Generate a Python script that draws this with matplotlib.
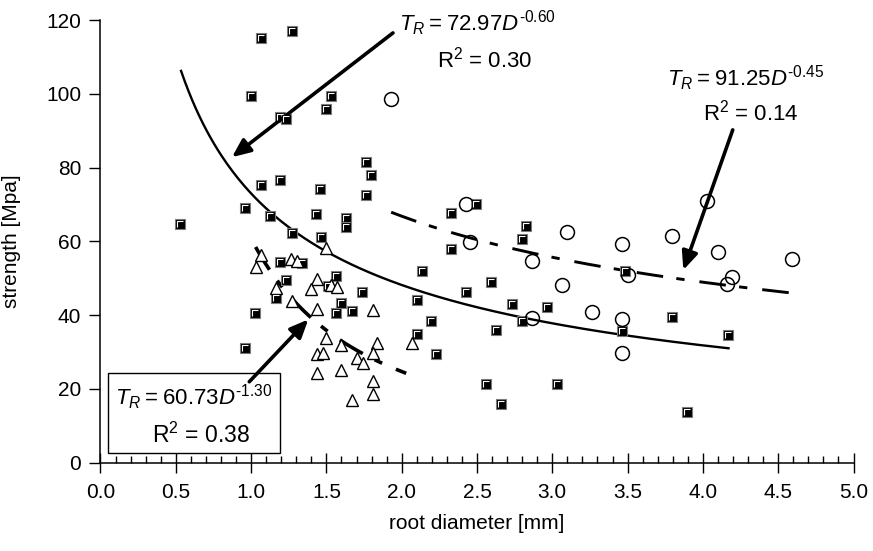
import matplotlib.pyplot as plt
import numpy as np
from matplotlib.path import Path
from matplotlib.patches import Rectangle

plt.rcParams["font.family"] = "Liberation Sans"
plt.rcParams["mathtext.fontset"] = "custom"
plt.rcParams["mathtext.rm"] = "Liberation Sans"
plt.rcParams["mathtext.it"] = "Liberation Sans:italic"
plt.rcParams["lines.scale_dashes"] = False

# root diameter [mm] / tensile strength [MPa], filled squares
sq_d = [0.53, 1.064, 1.27, 0.997, 1.53, 1.50, 1.19, 1.23, 1.064, 1.19,
        1.457, 1.796, 1.763, 1.763, 0.96, 1.125, 1.431, 1.63, 1.63, 1.27,
        1.462, 1.19, 1.336, 1.232, 1.564, 1.513, 1.165, 1.734, 1.60, 1.668,
        1.564, 1.026, 0.96, 2.49, 2.327, 2.825, 2.80, 2.327, 2.133, 2.593,
        2.427, 2.10, 2.195, 2.10, 2.228, 2.73, 2.967, 2.80, 2.626, 2.56,
        2.657, 3.03, 3.483, 3.46, 3.797, 4.165, 3.892]
sq_t = [64.7, 115.2, 117.0, 99.5, 99.5, 95.9, 93.8, 93.1, 75.3, 76.6,
        74.3, 77.9, 81.6, 72.6, 68.9, 66.9, 67.5, 66.3, 63.8, 62.2,
        61.1, 54.5, 54.2, 49.5, 50.6, 47.9, 44.7, 46.3, 43.2, 41.1,
        40.5, 40.6, 31.0, 70.2, 67.7, 64.2, 60.5, 57.9, 52.0, 49.0,
        46.3, 44.2, 38.5, 34.8, 29.5, 42.9, 42.1, 38.5, 35.8, 21.2,
        15.9, 21.4, 51.9, 35.7, 39.5, 34.6, 13.8]

# open triangles
tri_d = [1.497, 1.064, 1.033, 1.263, 1.303, 1.435, 1.396, 1.53, 1.57,
         1.165, 1.27, 1.435, 1.807, 1.497, 1.60, 1.834, 1.435, 1.48, 1.70,
         1.74, 1.81, 1.435, 1.60, 1.807, 1.807, 1.668, 2.07]
tri_t = [58.1, 56.3, 52.9, 55.2, 54.7, 49.8, 47.0, 48.1, 47.5,
         47.2, 43.9, 41.5, 41.4, 33.7, 31.9, 32.5, 29.3, 29.8, 28.3,
         27.1, 29.6, 24.2, 25.1, 22.2, 18.6, 16.9, 32.3]

# open circles
circ_d = [1.93, 2.43, 2.453, 2.863, 3.10, 3.062, 2.863, 3.262, 3.46,
          3.50, 3.46, 3.46, 3.797, 4.025, 4.098, 4.195, 4.158, 4.594]
circ_t = [98.6, 70.0, 59.9, 54.6, 62.6, 48.2, 39.1, 40.9, 59.3,
          50.8, 38.9, 29.8, 61.4, 70.9, 57.2, 50.4, 48.3, 55.1]

# power-law fits T_R = a * D^b
fit_a = [72.97, 91.25, 60.73]
fit_b = [-0.60, -0.45, -1.30]
fit_r2 = [0.30, 0.14, 0.38]
fit_lo = [0.535, 1.93, 1.03]
fit_hi = [4.17, 4.60, 2.03]

fig = plt.figure(figsize=(8.73, 5.51), dpi=100)
ax = fig.add_axes([0.1151, 0.1606, 0.8626, 0.8031])

# fitted curves
dash_dot = (0, (19.2, 9.6, 6.0, 10.8))
styles = ["-", dash_dot, dash_dot]
widths = [1.7, 2.1, 2.6]
for a, b, lo, hi, ls, lw in zip(fit_a, fit_b, fit_lo, fit_hi, styles, widths):
    d = np.linspace(lo, hi, 300)
    ax.plot(d, a * d ** b, color="black", lw=lw, linestyle=ls, zorder=2)

# squares with a light bevel on the top/left edge
corner = Path([(-1, -1), (-1, 1), (1, 1)], [Path.MOVETO, Path.LINETO, Path.LINETO])
ax.plot(sq_d, sq_t, linestyle="none", marker="s", markersize=6.8,
        markerfacecolor="black", markeredgecolor="#7a7a7a",
        markeredgewidth=0.8, zorder=3)
ax.plot(sq_d, sq_t, linestyle="none", marker=corner, markersize=4.6,
        markerfacecolor="none", markeredgecolor="white",
        markeredgewidth=0.8, zorder=4)

ax.plot(tri_d, tri_t, linestyle="none", marker="^", markersize=9.0,
        markerfacecolor="white", markeredgecolor="black",
        markeredgewidth=1.0, zorder=3)
ax.plot(circ_d, circ_t, linestyle="none", marker="o", markersize=10.0,
        markerfacecolor="none", markeredgecolor="black",
        markeredgewidth=1.1, zorder=3)

# equation labels and arrows
arrow = dict(arrowstyle="-|>,head_length=0.55,head_width=0.24",
             color="black", lw=2.6, mutation_scale=20,
             shrinkA=0, shrinkB=0)

def eq(a, b):
    return r"$T_R$" + "\u2009=\u2009" + r"%.2f$D^{\text{%.2f}}$" % (a, b)

def r2(v):
    return r"R$^{\text{2}}$ = %.2f" % v

ax.text(1.985, 119.2, eq(fit_a[0], fit_b[0]), fontsize=16,
        ha="left", va="center", clip_on=False)
ax.text(2.234, 109.4, r2(fit_r2[0]), fontsize=16, ha="left", va="center")
ax.annotate("", xy=(0.873, 82.8), xytext=(1.942, 116.5), arrowprops=arrow)

ax.text(3.762, 104.3, eq(fit_a[1], fit_b[1]), fontsize=16,
        ha="left", va="center")
ax.text(4.0, 94.8, r2(fit_r2[1]), fontsize=16, ha="left", va="center")
ax.annotate("", xy=(3.87, 52.2), xytext=(4.198, 90.2), arrowprops=arrow)

ax.add_patch(Rectangle((0.048, 2.65), 1.145, 21.7, facecolor="white",
                       edgecolor="black", lw=1.0, zorder=5))
ax.text(0.095, 17.8, eq(fit_a[2], fit_b[2]), fontsize=16,
        ha="left", va="center", zorder=6)
ax.text(0.34, 7.5, r2(fit_r2[2]), fontsize=16.5, ha="left", va="center",
        zorder=6)
ax.annotate("", xy=(1.38, 38.8), xytext=(0.988, 21.9), arrowprops=arrow,
            zorder=6)

# axes
ax.set_xlim(0, 5)
ax.set_ylim(0, 120)
ax.set_xticks(np.arange(0, 5.01, 0.5))
ax.set_xticks(np.arange(0, 5.01, 0.1), minor=True)
ax.set_yticks(np.arange(0, 121, 20))
ax.xaxis.set_major_formatter(plt.FormatStrFormatter("%.1f"))
ax.tick_params(axis="x", which="major", direction="inout", length=15,
               width=1.0, labelsize=15, pad=7)
ax.tick_params(axis="x", which="minor", direction="in", length=5, width=1.0)
ax.tick_params(axis="y", which="major", direction="out", length=8,
               width=1.0, labelsize=15, pad=6)
for side in ["top", "right"]:
    ax.spines[side].set_visible(False)
for side in ["left", "bottom"]:
    ax.spines[side].set_linewidth(1.1)

ax.set_xlabel("root diameter [mm]", fontsize=15)
ax.set_ylabel("strength [Mpa]", fontsize=15)
ax.xaxis.set_label_coords(0.5, -0.137)
ax.xaxis.label.set_verticalalignment("center")
ax.yaxis.set_label_coords(-0.1175, 0.5)
ax.yaxis.label.set_verticalalignment("center")

fig.savefig("out.png", dpi=100)
